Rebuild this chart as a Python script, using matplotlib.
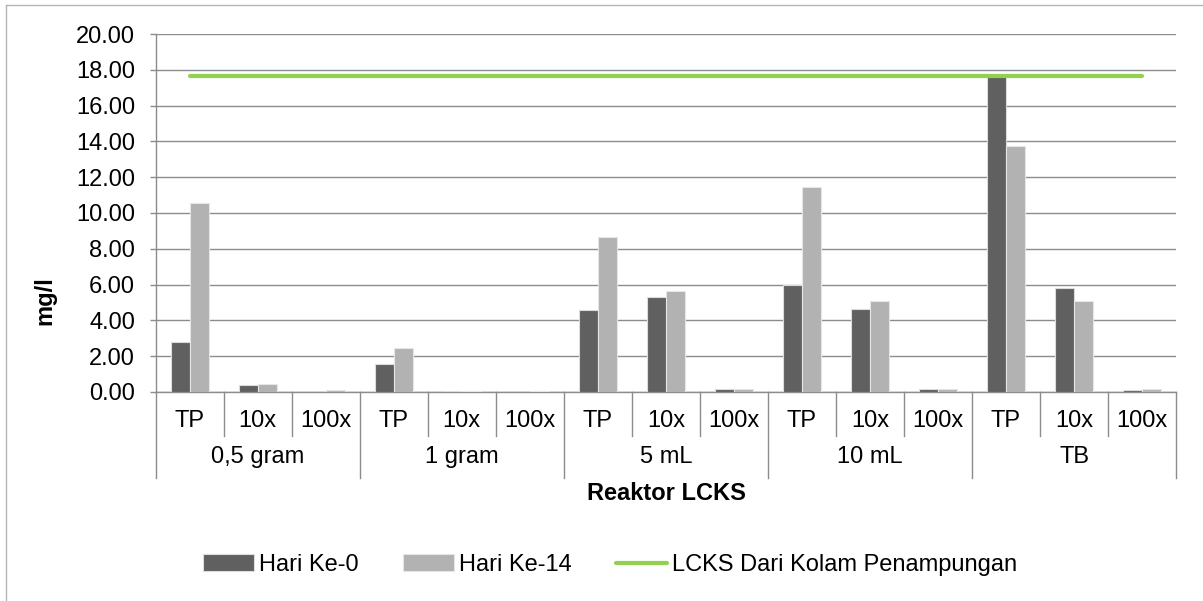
import matplotlib.pyplot as plt
from matplotlib.lines import Line2D
from matplotlib.transforms import blended_transform_factory
import numpy as np

plt.rcParams['font.family'] = ['Liberation Sans', 'DejaVu Sans']

# ---------------------------------- DATA -------------------------------------#
groups = ['0,5 gram', '1 gram', '5 mL', '10 mL', 'TB']
levels = ['TP', '10x', '100x']
hari_0 = [2.80, 0.41, 0.00, 1.57, 0.05, 0.02, 4.58, 5.31, 0.15,
          5.96, 4.63, 0.17, 17.66, 5.81, 0.11]
hari_14 = [10.54, 0.47, 0.11, 2.43, 0.06, 0.04, 8.65, 5.62, 0.17,
           11.46, 5.08, 0.19, 13.72, 5.09, 0.15]
lcks = [17.66, 17.66, 17.66, 17.66, 17.66, 17.66, 17.66, 17.66, 17.66,
        17.66, 17.66, 17.66, 17.66, 17.66, 17.66]

GRID = '#8c8c8c'
FS = 17
W = 0.28

# -------------------------------- FIGURE -------------------------------------#
fig = plt.figure(figsize=(12.03, 6.01), dpi=100)
ax = fig.add_axes([0.1294, 0.3478, 0.9776 - 0.1294, 0.9434 - 0.3478])

x = np.arange(len(hari_0))
b0 = ax.bar(x - W / 2, hari_0, W, color='#606060', edgecolor='#dcdcdc',
            linewidth=0.8, label='Hari Ke-0', zorder=3)
b14 = ax.bar(x + W / 2, hari_14, W, color='#b2b2b2', edgecolor='#e6e6e6',
             linewidth=0.8, label='Hari Ke-14', zorder=3)
ln, = ax.plot(x, lcks, color='#92d050', linewidth=3, solid_capstyle='round',
              label='LCKS Dari Kolam Penampungan', zorder=4)

ax.set_xlim(-0.5, len(x) - 0.5)
ax.set_ylim(0, 20)
ax.set_yticks(np.arange(0, 20.01, 2))
ax.set_yticklabels(['%.2f' % v for v in np.arange(0, 20.01, 2)], fontsize=FS)
ax.yaxis.grid(True, color=GRID, linewidth=1.0)
ax.set_axisbelow(True)
ax.tick_params(axis='y', length=4.3, width=1.0, color=GRID, pad=10.5)
ax.set_xticks([])
for s in ['top', 'right']:
    ax.spines[s].set_visible(False)
for s in ['left', 'bottom']:
    ax.spines[s].set_color(GRID)
    ax.spines[s].set_linewidth(1.0)

# two-level category axis
trans = blended_transform_factory(ax.transData, ax.transAxes)
n = len(levels)
for i in range(len(x) + 1):
    bottom = -0.240 if i % n == 0 else -0.123
    ax.plot([i - 0.5, i - 0.5], [0, bottom], transform=trans, color=GRID,
            linewidth=1.0, clip_on=False)
for i in range(len(x)):
    ax.text(i, -0.081, levels[i % n], transform=trans, ha='center',
            va='center', fontsize=FS)
for g, name in enumerate(groups):
    ax.text(g * n + 1, -0.182, name, transform=trans, ha='center',
            va='center', fontsize=FS)

ax.set_ylabel('mg/l', fontsize=FS, fontweight='bold')
ax.yaxis.set_label_coords(56 / 1203, 0.5, transform=fig.transFigure)
fig.text(666 / 1203, 1 - 493 / 601, 'Reaktor LCKS', ha='center',
         va='center', fontsize=FS, fontweight='bold')

fig.legend(handles=[b0, b14, ln], loc='center',
           bbox_to_anchor=(0.507, 1 - 565 / 601), ncol=3,
           frameon=False, fontsize=FS, handlelength=2.15, handleheight=0.75,
           handletextpad=0.2, columnspacing=1.9)

# chart frame
fig.add_artist(Line2D([6 / 1203, 6 / 1203], [0, 1 - 5 / 601],
                      transform=fig.transFigure, color='#b4b4b4', linewidth=1))
fig.add_artist(Line2D([6 / 1203, 1], [1 - 5 / 601, 1 - 5 / 601],
                      transform=fig.transFigure, color='#b4b4b4', linewidth=1))

fig.savefig('out.png', dpi=100)
